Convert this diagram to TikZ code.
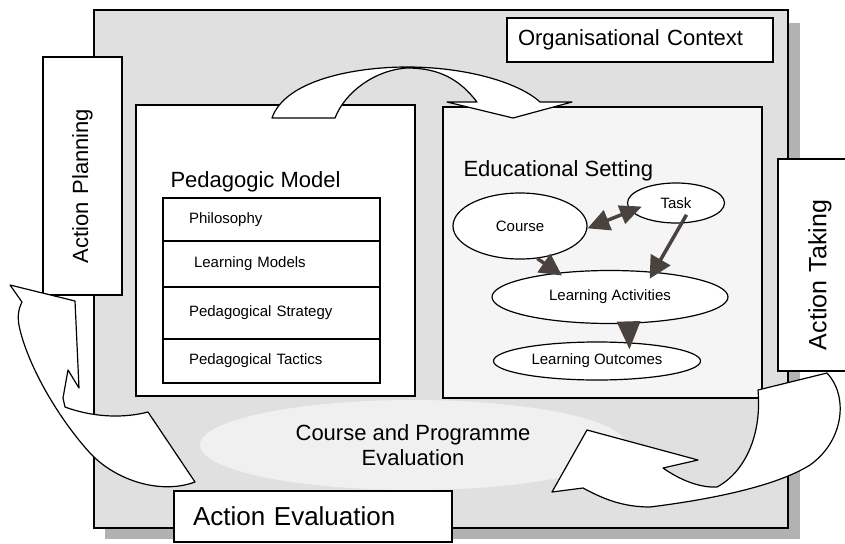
\documentclass[tikz,border=0pt]{standalone}
\usepackage{fontspec}
\setmainfont{Liberation Sans}
\usetikzlibrary{shapes.geometric,arrows.meta,positioning}
\definecolor{darkarr}{RGB}{74,66,62}
\begin{document}
\begin{tikzpicture}
            [x=1pt,y=-1pt,
             big/.style ={font=\fontsize{22}{25}\selectfont},
             sml/.style ={font=\fontsize{15}{18}\selectfont},
             wbox/.style ={draw,line width=1.2pt,fill=white,inner sep=0pt},
             lay/.style ={draw,line width=1.2pt,sml,outer sep=0pt,minimum width=217pt,text width=165pt,inner xsep=26pt,inner ysep=0pt,align=left},
             oval/.style ={draw,ellipse,line width=1.2pt,fill=white,sml,inner sep=0pt},
             darr/.style ={-{Triangle[length=22pt,width=22pt]},line width=3.5pt,darkarr},
             dbl/.style ={darr,{Triangle[length=22pt,width=21pt]}-{Triangle[length=22pt,width=19pt]}},
             band/.style ={draw,line width=1.2pt,fill=white,line join=round}]
            \useasboundingbox (0,0) rectangle (845,543);
            \fill[black!30] (105,23) rectangle (800,539);
            \draw[line width=1.2pt,fill=black!12] (94,10) rectangle (788,528);
            \node[wbox][big,minimum width=266pt,minimum height=44pt,text width=244pt,inner xsep=11pt,align=left] (ctx) at (640,40) {Organisational Context};
            \node[wbox][big,rotate=90,minimum width=238pt,minimum height=79pt,text width=174pt,inner xsep=32pt,align=left] (plan) at (82.5,176) {Action Planning};
            \node[wbox][font=\fontsize{25}{28}\selectfont,rotate=90,minimum width=212pt,minimum height=84pt,text width=170pt,inner xsep=21pt,align=left] (take) at (820,265) {Action Taking};
            \node[wbox][minimum width=279pt,minimum height=291pt] (ped) at (275.5,250.5) {};
            \node[wbox][fill=black!4,minimum width=319pt,minimum height=291pt] (edu) at (602.5,252.5) {};
            \node[big,anchor=base west] (pedt) at (167,187) {Pedagogic Model};
            \node[big,anchor=base west] (edut) at (460,176) {Educational Setting};
            \node[lay][minimum height=43pt] (phil) at (271.5,219.5) {Philosophy};
            \node[lay][minimum height=46pt] (lmod) [below=0pt of phil] {\hspace*{5pt}Learning Models};
            \node[lay][minimum height=52pt] (strat) [below=0pt of lmod] {Pedagogical Strategy};
            \node[lay][minimum height=44pt] (tact) [below=0pt of strat] {Pedagogical Tactics};
            \node[oval][minimum width=134pt,minimum height=66pt] (course) at (520,226) {Course};
            \node[oval][minimum width=97pt,minimum height=40pt] (task) at (676,203) {Task};
            \node[oval][minimum width=236pt,minimum height=53pt] (act) at (610,297) {Learning Activities};
            \node[oval][minimum width=207pt,minimum height=38pt] (out) at (597,361) {Learning Outcomes};
            \draw[dbl,shorten >=-12pt] (course.-2) to (task.190);
            \draw[darr,shorten >=-5pt] (course.-62) to (act.155);
            \draw[darr,shorten <=-10pt,shorten >=-8pt] (task.-75) to (act.30);
            \draw[darr,-{Triangle[length=28pt,width=23pt]},shorten <=-4pt,shorten >=-7pt] (act.-55) to (out.30);
            \node[ellipse,fill=black!6,big,minimum width=426pt,minimum height=90pt,inner sep=0pt,align=center] (eval) at (413,445) {Course and Programme\\Evaluation};
            \draw[band] (272,118) .. controls (285,80) and (355,67) .. (407,67) .. controls (465,67) and (518,82) .. (540,102) -- (572,102) -- (513,118) -- (447,102) -- (477,102) .. controls (460,80) and (440,68) .. (407,68) .. controls (375,70) and (345,92) .. (335,118) -- cycle;
            \draw[band] (10,285) -- (75,301) -- (79,388) -- (68,370) -- (63,398) -- (65,407) .. controls (95,418) and (125,418) .. (148,412) -- (195,482) .. controls (160,495) and (115,480) .. (90,453) .. controls (60,420) and (30,370) .. (20,330) .. controls (17,318) and (18,310) .. (22,302) -- cycle;
            \draw[band] (552,492) -- (587,430) -- (698,460) -- (663,468) .. controls (680,480) and (700,488) .. (717,487) .. controls (745,472) and (762,435) .. (758,390) -- (827,373) .. controls (848,395) and (845,440) .. (810,465) .. controls (770,490) and (690,502) .. (650,507) .. controls (620,507) and (600,497) .. (583,488) -- cycle;
            \node[wbox][font=\fontsize{26}{29}\selectfont,minimum width=278pt,minimum height=51pt,text width=240pt,inner xsep=19pt,align=left] (evalact) at (313,516.5) {Action Evaluation};
        \end{tikzpicture}
\end{document}
